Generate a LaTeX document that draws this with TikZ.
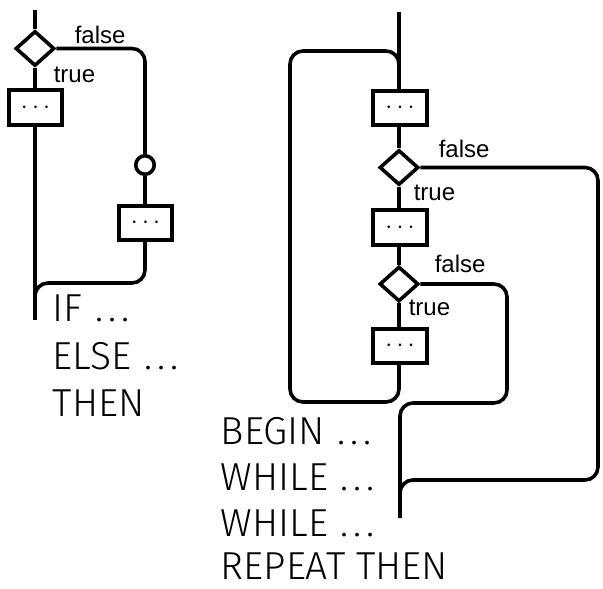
\documentclass[tikz,border=0pt]{standalone}
\usepackage{fontspec}
\setmainfont{Liberation Sans}
\newfontfamily\bigfont{Fira Sans}[UprightFont=* Light]
\newcommand\dts{\hspace{0.32em}.\hspace{0.13em}.\hspace{0.13em}.}
\usetikzlibrary{shapes.geometric}
\begin{document}
\begin{tikzpicture}[x=1pt,y=-1pt,line width=3.6pt,
  dia/.style={draw,diamond,fill=white,minimum width=39pt,minimum height=35pt,inner sep=0pt},
  box/.style={draw,rectangle,fill=white,minimum width=53.5pt,minimum height=34.5pt,inner sep=0pt,font=\fontsize{27}{27}\selectfont},
  junc/.style={draw,circle,fill=white,minimum size=18.5pt,inner sep=0pt},
  lbl/.style={anchor=base west,inner sep=0pt,font=\fontsize{24}{24}\selectfont},
  big/.style={anchor=base west,inner sep=0pt,font=\bigfont\fontsize{39}{39}\selectfont},
  flow/.style={line width=3.6pt,rounded corners=13pt}]
\useasboundingbox (0,0) rectangle (603,589);

% ---------- left: IF ... ELSE ... THEN ----------
\coordinate (Ltop) at (35,10);
\coordinate (Lbot) at (35,320);
\node[dia] (LD) at (35,48.5) {};
\node[box] (LB1) at (35.5,107.5) {$\cdots$};
\node[junc] (LC) at (145,165) {};
\node[box] (LB2) at (145.5,223) {$\cdots$};
\coordinate (LFc) at (145,48.5);
\coordinate (LJa) at (145,283);
\coordinate (LJb) at (35,283);
\coordinate (LJc) at (35,297);

\draw (Ltop) -- (LD.north);
\draw (LD.south) -- (LB1.north -| LD.south);
\draw (LB1.south -| LD.south) -- (Lbot);
\draw[flow] (LD.east) -- (LFc) -- (LC.north);
\draw (LC.south) -- (LB2.north -| LC.south);
\draw[flow] (LB2.south -| LC.south) -- (LJa) -- (LJb) -- (LJc);

\node[lbl] (Lfalse) at (73,43) {false};
\node[lbl] (Ltrue) at (52,82) {true};

\node[big] (tIF) at (51,321) {IF\dts};
\node[big] (tELSE) at (51,369) {ELSE\dts};
\node[big] (tTHEN) at (51,416) {THEN};

% ---------- right: BEGIN ... WHILE ... WHILE ... REPEAT THEN ----------
\coordinate (Rtop) at (399,12);
\node[box] (RB1) at (400,108) {$\cdots$};
\node[dia] (RD1) at (399,167.5) {};
\node[box] (RB2) at (400,227.5) {$\cdots$};
\node[dia] (RD2) at (399,284) {};
\node[box] (RB3) at (400,346) {$\cdots$};

\coordinate (LpA) at (399,402);
\coordinate (LpB) at (290,402);
\coordinate (LpC) at (290,51);
\coordinate (LpD) at (399,51);
\coordinate (LpE) at (399,70);

\coordinate (E1a) at (598,167.5);
\coordinate (E1b) at (598,480);
\coordinate (E1c) at (400,480);
\coordinate (E1d) at (400,494);

\coordinate (E2a) at (507,284);
\coordinate (E2b) at (507,403);
\coordinate (E2c) at (400,403);
\coordinate (Rend) at (400,518);

\draw (Rtop) -- (RB1.north -| Rtop);
\draw (RB1.south -| Rtop) -- (RD1.north);
\draw (RD1.south) -- (RB2.north -| Rtop);
\draw (RB2.south -| Rtop) -- (RD2.north);
\draw (RD2.south) -- (RB3.north -| Rtop);
\draw[flow] (RB3.south -| Rtop) -- (LpA) -- (LpB) -- (LpC) -- (LpD) -- (LpE);
\draw[flow] (RD1.east) -- (E1a) -- (E1b) -- (E1c) -- (E1d);
\draw[flow] (RD2.east) -- (E2a) -- (E2b) -- (E2c) -- (Rend);

\node[lbl] (Rfalse1) at (437,157) {false};
\node[lbl] (Rtrue1) at (412,200) {true};
\node[lbl] (Rfalse2) at (433,272) {false};
\node[lbl] (Rtrue2) at (407,315) {true};

\node[big] (tBEGIN) at (219,444) {BEGIN\dts};
\node[big] (tWHILE1) at (219,490) {WHILE\dts};
\node[big] (tWHILE2) at (219,536) {WHILE\dts};
\node[big] (tREPEAT) at (219,579) {REPEAT THEN};
\end{tikzpicture}
\end{document}
